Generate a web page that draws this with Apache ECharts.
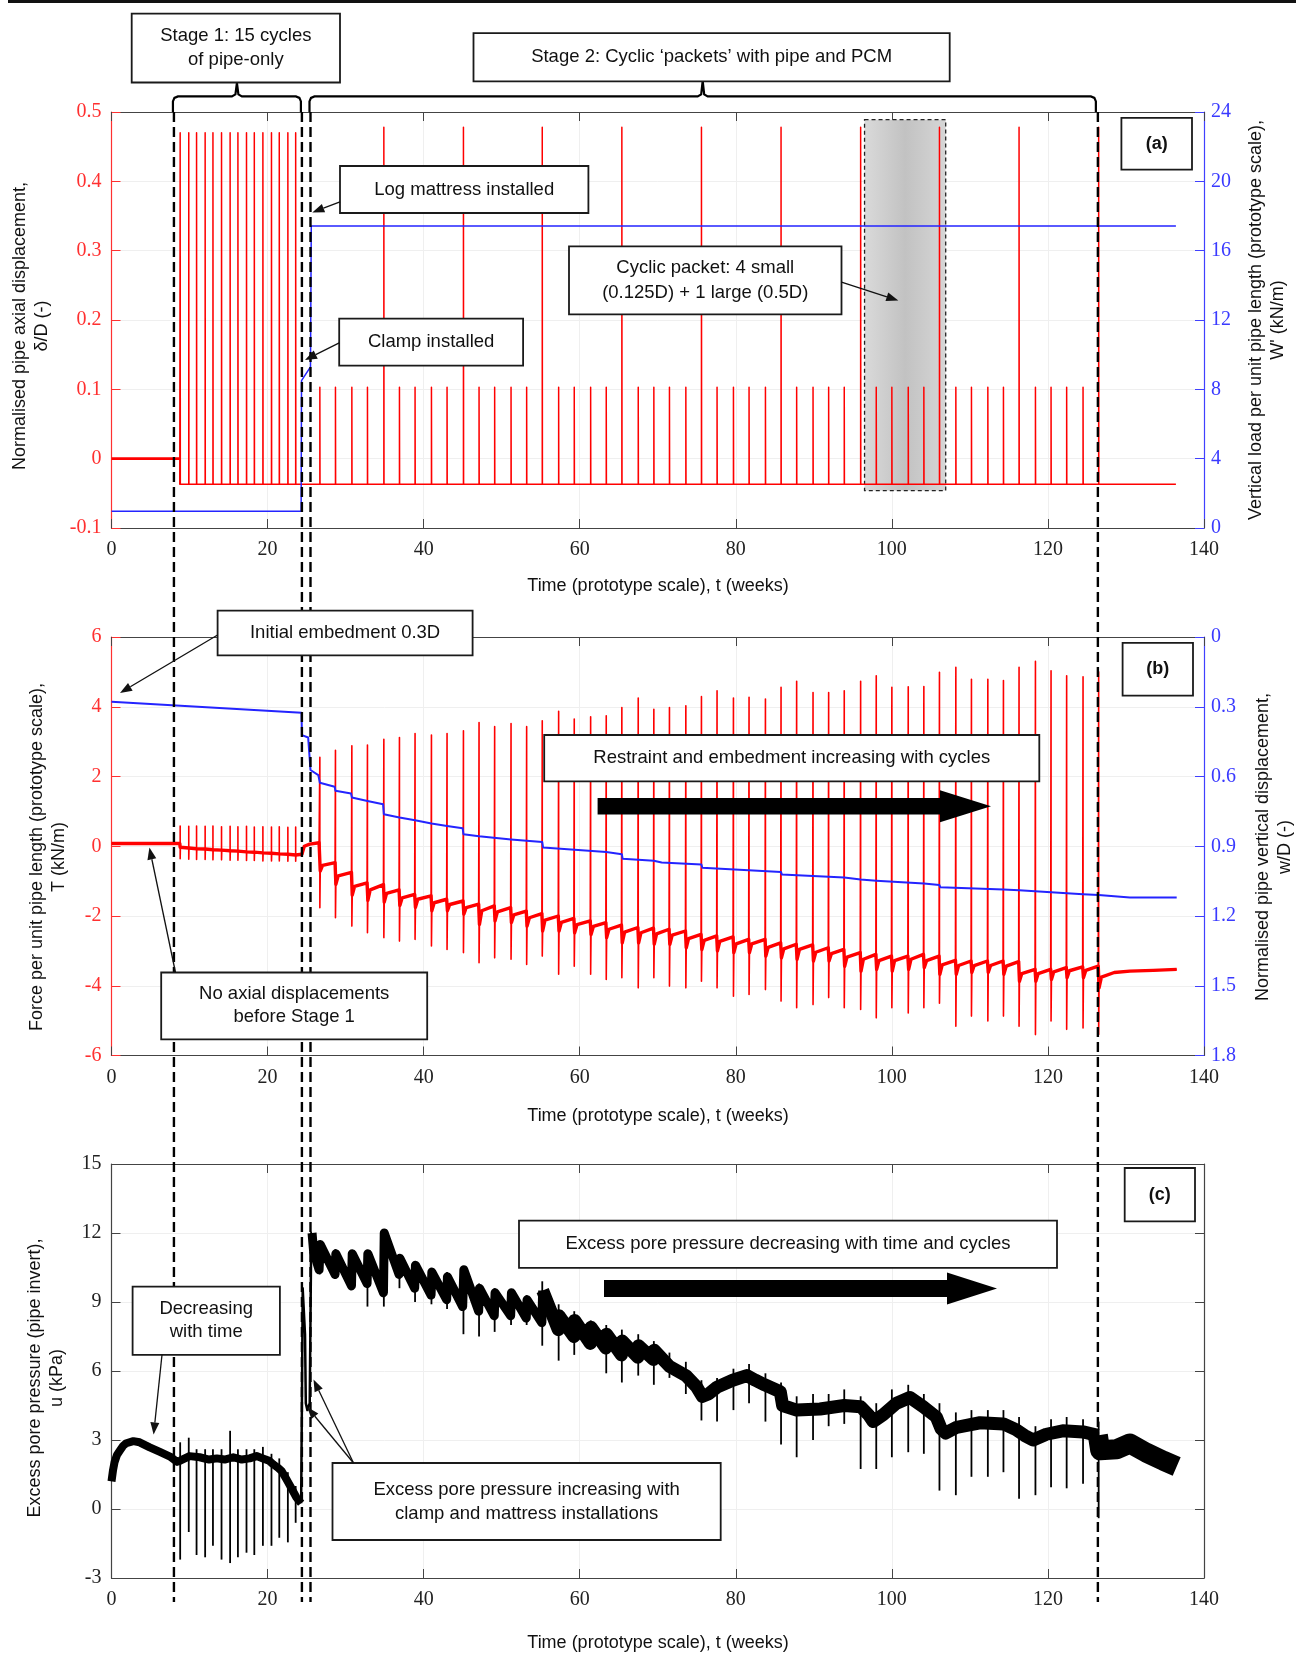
<!DOCTYPE html>
<html>
<head>
<meta charset="utf-8">
<script src="https://cdn.jsdelivr.net/npm/echarts@6/dist/echarts.min.js"></script>
<style>
html, body { margin: 0; padding: 0; background: #fff; }
#chart { width: 1315px; height: 1659px; }
</style>
</head>
<body>
<div id="chart"></div>
<script>
// event times (weeks)
const stage1Start = 8.0
const clampTime = 24.4
const mattressTime = 25.5
const stage2End = 126.4
const testEnd = 136.4

// cycle times
const stage1Times = [8.8, 9.9, 10.9, 12.0, 13.0, 14.1, 15.2, 16.2, 17.3, 18.3, 19.4, 20.5, 21.5, 22.6, 23.6]
const stage2Times = [26.7, 28.7, 30.8, 32.8, 34.9, 36.9, 38.9, 41.0, 43.0, 45.1,
  47.1, 49.1, 51.2, 53.2, 55.2, 57.3, 59.3, 61.4, 63.4, 65.4,
  67.5, 69.5, 71.5, 73.6, 75.6, 77.6, 79.7, 81.7, 83.8, 85.8,
  87.8, 89.9, 91.9, 93.9, 96.0, 98.0, 100.0, 102.1, 104.1, 106.1,
  108.2, 110.2, 112.3, 114.3, 116.3, 118.4, 120.4, 122.4, 124.5, 126.5]

// (a) normalised axial displacement and vertical load
const aBase = -0.037
const aPeak1 = [0.47, 0.47, 0.47, 0.47, 0.47, 0.47, 0.47, 0.47, 0.47, 0.47, 0.47, 0.47, 0.47, 0.47, 0.47]
const aPeak2 = [0.103, 0.103, 0.103, 0.103, 0.478, 0.103, 0.103, 0.103, 0.103, 0.478,
  0.103, 0.103, 0.103, 0.103, 0.478, 0.103, 0.103, 0.103, 0.103, 0.478,
  0.103, 0.103, 0.103, 0.103, 0.478, 0.103, 0.103, 0.103, 0.103, 0.478,
  0.103, 0.103, 0.103, 0.103, 0.478, 0.103, 0.103, 0.103, 0.103, 0.478,
  0.103, 0.103, 0.103, 0.103, 0.478, 0.103, 0.103, 0.103, 0.103, 0.478]
const aLoad = [[0, 0.97], [24.3, 0.97], [24.35, 8.5], [25.5, 9.3], [25.6, 17.42], [136.4, 17.42]]
const packetBox = [96.5, 106.9, 0.489, -0.046]

// (b) axial force and vertical displacement
const bPre = [[0, 0.08], [8.75, 0.08]]
const b1Base = [-0.03, -0.05, -0.07, -0.08, -0.10, -0.11, -0.13, -0.14, -0.16, -0.17, -0.19, -0.20, -0.22, -0.23, -0.25]
const b1Peak = [0.58, 0.57, 0.58, 0.57, 0.58, 0.56, 0.57, 0.56, 0.57, 0.55, 0.56, 0.55, 0.56, 0.54, 0.55]
const b1Trough = [-0.36, -0.37, -0.38, -0.38, -0.39, -0.39, -0.40, -0.40, -0.41, -0.41, -0.42, -0.42, -0.42, -0.43, -0.43]
const bGap = [[23.65, -0.25], [24.4, -0.23], [24.7, 0.0], [25.4, 0.06], [25.6, 0.1], [26.6, 0.1]]
const b2Peak = [2.55, 2.75, 2.88, 2.90, 3.07, 3.12, 3.23, 3.19, 3.23, 3.31,
  3.55, 3.43, 3.52, 3.43, 3.60, 3.87, 3.65, 3.71, 3.74, 3.98,
  4.25, 3.93, 3.98, 4.03, 4.29, 4.46, 4.25, 4.27, 4.22, 4.56,
  4.73, 4.41, 4.41, 4.46, 4.73, 4.89, 4.56, 4.57, 4.58, 4.99,
  5.13, 4.79, 4.79, 4.75, 5.13, 5.30, 5.03, 4.89, 4.86, 5.00]
const b2Trough = [-1.76, -2.05, -2.29, -2.48, -2.62, -2.72, -2.67, -2.86, -2.96, -3.05,
  -3.34, -3.20, -3.24, -3.39, -3.15, -3.67, -3.44, -3.67, -3.82, -3.77,
  -4.06, -3.77, -4.01, -4.06, -3.87, -4.06, -4.30, -4.25, -4.11, -4.44,
  -4.63, -4.54, -4.34, -4.63, -4.68, -4.92, -4.63, -4.78, -4.63, -4.50,
  -5.16, -4.87, -5.01, -4.87, -5.16, -5.40, -5.01, -5.25, -5.21, -5.40]
// recovery after each cycle: [start, knee, end]
const b2Rec = [
  [-0.71, -0.55, -0.47], [-1.09, -0.85, -0.75], [-1.40, -1.15, -1.05], [-1.55, -1.25, -1.10], [-1.60, -1.35, -1.25],
  [-1.70, -1.48, -1.38], [-1.75, -1.52, -1.42], [-1.85, -1.62, -1.52], [-1.85, -1.67, -1.57], [-1.95, -1.76, -1.66],
  [-2.24, -1.85, -1.71], [-2.14, -1.88, -1.76], [-2.19, -1.97, -1.86], [-2.29, -2.05, -1.93], [-2.43, -2.12, -2.00],
  [-2.43, -2.18, -2.07], [-2.48, -2.25, -2.14], [-2.53, -2.30, -2.19], [-2.62, -2.38, -2.26], [-2.77, -2.46, -2.33],
  [-2.77, -2.48, -2.35], [-2.81, -2.51, -2.38], [-2.81, -2.55, -2.43], [-2.91, -2.65, -2.53], [-2.96, -2.70, -2.57],
  [-3.00, -2.73, -2.60], [-3.05, -2.80, -2.67], [-3.05, -2.80, -2.67], [-3.15, -2.90, -2.77], [-3.20, -2.94, -2.81],
  [-3.24, -2.96, -2.83], [-3.29, -3.04, -2.91], [-3.29, -3.08, -2.96], [-3.44, -3.18, -3.05], [-3.58, -3.24, -3.10],
  [-3.53, -3.28, -3.15], [-3.58, -3.28, -3.15], [-3.53, -3.24, -3.10], [-3.48, -3.28, -3.15], [-3.67, -3.40, -3.27],
  [-3.67, -3.42, -3.29], [-3.62, -3.42, -3.29], [-3.62, -3.42, -3.29], [-3.67, -3.44, -3.31], [-3.87, -3.65, -3.53],
  [-3.87, -3.65, -3.53], [-3.82, -3.60, -3.48], [-3.77, -3.57, -3.46], [-3.77, -3.56, -3.44], [-4.06, -3.75, -3.62]]
const bTail = [[130.5, -3.58], [133.5, -3.56], [136.5, -3.53]]
const bDisp = [[0, 0.279], [24.35, 0.326], [24.4, 0.422], [25.2, 0.432], [25.5, 0.572], [26.5, 0.594], [26.7, 0.627],
  [28.6, 0.644], [28.7, 0.661], [30.7, 0.673], [30.8, 0.690], [32.8, 0.705], [32.9, 0.709], [34.8, 0.719], [34.9, 0.762],
  [36.9, 0.776], [38.9, 0.788], [41.0, 0.802], [43.0, 0.813], [45.0, 0.823], [45.1, 0.848], [47.1, 0.857], [51.2, 0.871],
  [55.2, 0.882], [55.3, 0.905], [63.4, 0.925], [65.4, 0.934], [65.5, 0.954], [69.5, 0.962], [70.5, 0.970], [75.6, 0.978],
  [75.7, 0.992], [85.8, 1.011], [85.9, 1.021], [93.9, 1.034], [96.0, 1.043], [98.0, 1.048], [104.1, 1.060], [106.1, 1.067],
  [106.2, 1.076], [114.3, 1.086], [116.3, 1.089], [116.4, 1.097], [124.5, 1.106], [126.5, 1.110], [130.5, 1.120], [136.5, 1.120]]

// (c) excess pore pressure
const cEarly = [[0, 1.2], [0.2, 1.7], [0.4, 2.05], [0.7, 2.35], [1.1, 2.55], [1.5, 2.75], [1.9, 2.86], [2.8, 2.95],
  [3.6, 2.9], [4.9, 2.68], [6.2, 2.48], [7.5, 2.28], [8.4, 2.05], [8.8, 2.1], [10.0, 2.3], [11.3, 2.25], [12.5, 2.15],
  [13.5, 2.2], [14.5, 2.15], [15.6, 2.25], [16.7, 2.15], [17.7, 2.2], [18.6, 2.3], [19.4, 2.2], [20.2, 2.1], [20.7, 1.95],
  [21.3, 1.8], [21.8, 1.65], [22.4, 1.3], [22.9, 1.0], [23.3, 0.75], [23.7, 0.5], [24.3, 0.25]]
const cInstall = [[24.3, 0.25], [24.4, 4.6], [24.5, 9.6], [24.8, 7.6], [24.9, 4.6], [25.1, 4.3], [25.4, 4.6], [25.6, 12.0], [25.7, 12.0]]
const cCycles1 = [[25.7, 12.0], [25.9, 11.2], [26.6, 10.4], [26.75, 11.5], [28.65, 10.2], [28.75, 11.1], [30.75, 9.7],
  [30.85, 11.1], [32.75, 9.8], [32.85, 11.1], [34.85, 9.4], [34.95, 12.0], [36.85, 10.2], [36.95, 10.9], [38.85, 9.6],
  [38.95, 10.6], [40.95, 9.3], [41.05, 10.3], [42.95, 9.1], [43.05, 10.1], [45.0, 8.8], [45.15, 10.4], [47.05, 8.6],
  [47.15, 9.6], [49.05, 8.4], [49.15, 9.4], [51.15, 8.4], [51.25, 9.4], [53.15, 8.3], [53.25, 9.1], [55.15, 8.1], [55.25, 9.5]]
const cCycles2 = [[55.25, 9.5], [57.25, 7.8], [57.35, 8.4], [59.25, 7.5], [59.35, 8.2], [61.35, 7.2], [61.45, 7.9],
  [63.35, 7.0], [63.45, 7.6], [65.35, 6.7], [65.45, 7.3], [67.45, 6.6], [67.55, 7.1], [69.45, 6.5], [69.55, 6.9],
  [71.5, 6.2], [73.6, 5.8], [75.0, 5.3], [75.7, 4.9], [76.5, 5.0], [77.6, 5.3], [79.6, 5.6], [81.4, 5.8], [82.5, 5.6],
  [83.7, 5.4], [85.7, 5.1], [86.0, 4.5], [87.8, 4.3], [90.8, 4.35], [93.9, 4.5], [96.0, 4.45], [97.0, 4.1], [97.6, 3.8],
  [98.9, 4.1], [100.6, 4.6], [102.3, 4.85], [104.0, 4.45], [105.7, 4.0], [106.3, 3.5], [106.9, 3.3], [108.3, 3.55],
  [111.3, 3.75], [114.3, 3.7], [115.9, 3.45], [117.0, 3.2], [118.1, 3.0], [119.8, 3.25], [121.9, 3.4], [124.5, 3.35], [126.4, 3.2]]
const cTail = [[126.4, 3.2], [126.7, 2.55], [128.8, 2.6], [130.5, 2.85], [132.6, 2.45], [134.8, 2.1], [136.5, 1.85]]
const cSpikeTop1 = [2.9, 3.1, 2.6, 2.6, 2.6, 2.6, 3.4, 2.6, 2.6, 2.6, 2.7, 2.4, 2.2, 1.6, 1.0]
const cSpikeBottom1 = [-2.2, -1.0, -2.0, -2.1, -1.6, -2.2, -2.35, -2.1, -1.9, -2.0, -1.6, -1.6, -1.25, -1.45, -0.6]
const cSpikeTop2 = [11.6, 11.3, 11.2, 11.2, 12.1, 11.0, 10.7, 10.4, 10.3, 10.5,
  9.8, 9.6, 9.5, 9.3, 9.9, 8.9, 8.6, 8.2, 8.0, 7.8,
  7.6, 7.3, 6.8, 6.4, 5.6, 5.7, 6.1, 6.3, 5.9, 5.5,
  4.9, 5.0, 5.0, 5.2, 4.9, 4.6, 5.2, 5.4, 5.0, 4.6,
  4.2, 4.3, 4.3, 4.3, 4.0, 3.6, 3.9, 4.0, 3.9, 3.8]
const cSpikeBottom2 = [10.2, 10.0, 9.6, 8.8, 8.8, 9.6, 9.0, 8.9, 8.7, 7.6,
  7.5, 7.7, 8.0, 8.0, 7.1, 6.45, 6.7, 7.3, 5.9, 5.5,
  5.8, 5.4, 5.7, 5.0, 3.85, 3.8, 4.3, 4.6, 3.8, 2.8,
  2.25, 3.0, 3.6, 3.7, 1.74, 1.74, 2.25, 2.47, 2.4, 0.8,
  0.6, 1.4, 1.4, 1.6, 0.45, 0.6, 0.95, 0.9, 1.1, -0.4]

const serif = 'Liberation Serif'
const sans = '"Liberation Sans", Arial, sans-serif'
const RED = '#ff0000'
const BLUE = '#2424ff'

// build line paths from the arrays above
function buildA() {
  const d = [[8.75, 0], [8.75, aBase]]
  stage1Times.forEach((t, i) => d.push([t, aBase], [t, aPeak1[i]], [t + 0.02, aBase]))
  stage2Times.forEach((t, i) => d.push([t, aBase], [t, aPeak2[i]], [t + 0.02, aBase]))
  d.push([testEnd, aBase])
  return d
}

function buildB() {
  const thin = bPre.slice(), thick = bPre.slice()
  stage1Times.forEach((t, i) => {
    thin.push([t, b1Base[i]], [t, b1Peak[i]], [t, b1Trough[i]], [t + 0.03, b1Base[i]])
    thick.push([t, b1Base[i]])
  })
  bGap.forEach(p => { thin.push(p); thick.push(p) })
  stage2Times.forEach((t, k) => {
    const r = b2Rec[k]
    const tEnd = k < stage2Times.length - 1 ? stage2Times[k + 1] - 0.05 : t + 2.0
    thin.push([t, b2Peak[k]], [t, b2Trough[k]], [t + 0.05, r[0]], [t + 0.35, r[1]], [tEnd, r[2]])
    thick.push([t + 0.05, r[0]], [t + 0.35, r[1]], [tEnd, r[2]])
  })
  bTail.forEach(p => { thin.push(p); thick.push(p) })
  return { thin, thick }
}

const cSpikes = stage1Times.map((t, i) => [t, cSpikeTop1[i], cSpikeBottom1[i]])
  .concat(stage2Times.map((t, i) => [t, cSpikeTop2[i], cSpikeBottom2[i]]))

const bLines = buildB()

const grids = [
  { left: 111.5, top: 112, width: 1092.5, height: 416 },
  { left: 111.5, top: 637, width: 1092.5, height: 418.5 },
  { left: 111.5, top: 1164, width: 1092.5, height: 414 }
]

function xAxes(g) {
  const base = { type: 'value', gridIndex: g, min: 0, max: 140, interval: 20 }
  return [
    Object.assign({}, base, {
      position: 'bottom',
      axisLine: { onZero: false, lineStyle: { color: '#444', width: 1.2 } },
      axisTick: { inside: true, length: 9, lineStyle: { color: '#444' } },
      axisLabel: { margin: 12, color: '#222', fontFamily: serif, fontSize: 20 },
      splitLine: { show: true, lineStyle: { color: '#efefef' } }
    }),
    Object.assign({}, base, {
      position: 'top',
      axisLine: { onZero: false, lineStyle: { color: '#444', width: 1.2 } },
      axisTick: { inside: true, length: 9, lineStyle: { color: '#444' } },
      axisLabel: { show: false },
      splitLine: { show: false }
    })
  ]
}

function yAxis(g, pos, min, max, interval, lineColor, labelColor, extra) {
  return Object.assign({
    type: 'value', gridIndex: g, position: pos, min, max, interval,
    axisLine: { show: true, onZero: false, lineStyle: { color: lineColor, width: 1.2 } },
    axisTick: { show: true, inside: true, length: 9, lineStyle: { color: lineColor } },
    axisLabel: { show: !!labelColor, margin: pos === 'left' ? 10 : 7, color: labelColor, fontFamily: serif, fontSize: 20 },
    splitLine: { show: pos === 'left', lineStyle: { color: '#efefef' } }
  }, extra || {})
}

function line(xi, yi, data, color, width, z) {
  return {
    type: 'line', xAxisIndex: xi, yAxisIndex: yi, data, symbol: 'none', showSymbol: false,
    silent: true, z: z || 3, lineStyle: { color, width, join: 'round' }
  }
}

const option = {
  animation: false,
  backgroundColor: '#fff',
  textStyle: { fontFamily: serif },
  grid: grids.map(g => Object.assign({ outerBoundsMode: 'none' }, g)),
  xAxis: [].concat(xAxes(0), xAxes(1), xAxes(2)),
  yAxis: [
    yAxis(0, 'left', -0.1, 0.5, 0.1, '#ff3030', '#ff3030'),
    yAxis(0, 'right', 0, 24, 4, '#4040ff', '#3a3aff'),
    yAxis(1, 'left', -6, 6, 2, '#ff3030', '#ff3030'),
    yAxis(1, 'right', 0, 1.8, 0.3, '#4040ff', '#3a3aff', { inverse: true }),
    yAxis(2, 'left', -3, 15, 3, '#444', '#222'),
    yAxis(2, 'right', -3, 15, 3, '#444', null)
  ],
  series: [
    {
      type: 'custom', xAxisIndex: 0, yAxisIndex: 0, z: 1, silent: true,
      data: [packetBox], encode: { x: [0, 1], y: [2, 3] },
      renderItem: (params, api) => {
        const a = api.coord([api.value(0), api.value(2)])
        const b = api.coord([api.value(1), api.value(3)])
        return {
          type: 'rect',
          shape: { x: a[0], y: a[1], width: b[0] - a[0], height: b[1] - a[1] },
          style: {
            fill: new echarts.graphic.LinearGradient(0, 0, 1, 0, [
              { offset: 0, color: '#dadada' }, { offset: 0.5, color: '#c2c2c2' }, { offset: 1, color: '#d6d6d6' }]),
            stroke: '#222', lineWidth: 1.3, lineDash: [4, 3]
          }
        }
      }
    },
    line(0, 0, [[0, 0], [8.75, 0]], RED, 2.6),
    line(0, 0, buildA(), RED, 1.5),
    line(0, 1, aLoad, BLUE, 1.5),
    line(2, 2, bLines.thin, RED, 1.6),
    line(2, 2, bLines.thick, RED, 3.4),
    line(2, 3, bDisp, BLUE, 2, 4),
    line(4, 4, cEarly, '#000', 8),
    line(4, 4, cInstall, '#000', 2.5),
    line(4, 4, cCycles1, '#000', 9),
    line(4, 4, cCycles2, '#000', 13),
    line(4, 4, cTail, '#000', 20),
    {
      type: 'custom', xAxisIndex: 4, yAxisIndex: 4, z: 3, silent: true,
      data: cSpikes, encode: { x: 0, y: [1, 2] },
      renderItem: (params, api) => {
        const p1 = api.coord([api.value(0), api.value(1)])
        const p2 = api.coord([api.value(0), api.value(2)])
        return { type: 'line', shape: { x1: p1[0], y1: p1[1], x2: p2[0], y2: p2[1] }, style: { stroke: '#000', lineWidth: 1.8 } }
      }
    }
  ]
}

const chart = echarts.init(document.getElementById('chart'))
chart.setOption(option)

// annotations
function box(x, y, w, h, text, opt) {
  opt = opt || {}
  const font = (opt.bold ? 'bold 18px ' : '18.5px ') + sans
  return [
    { type: 'rect', z: 70, shape: { x, y, width: w, height: h }, style: { fill: '#fff', stroke: '#1a1a1a', lineWidth: 1.8 } },
    {
      type: 'text', z: 71, x: x + w / 2, y: y + h / 2 + (opt.dy || 0),
      style: { text, font, fill: '#111', align: 'center', verticalAlign: 'middle', textAlign: 'center', textVerticalAlign: 'middle', lineHeight: opt.lh || 24 }
    }
  ]
}

function arrow(x1, y1, x2, y2) {
  const dx = x2 - x1, dy = y2 - y1, len = Math.hypot(dx, dy)
  const ux = dx / len, uy = dy / len
  const hl = 12, hw = 4.5
  const bx = x2 - ux * hl, by = y2 - uy * hl
  return [
    { type: 'line', z: 72, shape: { x1, y1, x2: bx, y2: by }, style: { stroke: '#111', lineWidth: 1.3 } },
    { type: 'polygon', z: 72, shape: { points: [[x2, y2], [bx - uy * hw, by + ux * hw], [bx + uy * hw, by - ux * hw]] }, style: { fill: '#111' } }
  ]
}

function bigArrow(x1, x2, xTip, yc, shaftH, headH) {
  return {
    type: 'polygon', z: 65,
    shape: { points: [[x1, yc - shaftH / 2], [x2, yc - shaftH / 2], [x2, yc - headH / 2], [xTip, yc], [x2, yc + headH / 2], [x2, yc + shaftH / 2], [x1, yc + shaftH / 2]] },
    style: { fill: '#000' }
  }
}

function vText(x, y, text) {
  return {
    type: 'text', z: 40, x, y, rotation: Math.PI / 2,
    style: { text, font: '18px ' + sans, fill: '#111', align: 'center', verticalAlign: 'middle', textAlign: 'center', textVerticalAlign: 'middle', lineHeight: 22 }
  }
}

function hText(x, y, text) {
  return {
    type: 'text', z: 40, x, y,
    style: { text, font: '18px ' + sans, fill: '#111', align: 'center', verticalAlign: 'middle', textAlign: 'center', textVerticalAlign: 'middle' }
  }
}

function brace(x1, x2, yb, yh, ypk) {
  const m = (x1 + x2) / 2
  return {
    type: 'polyline', z: 55,
    shape: { points: [[x1, yb], [x1, yh + 5], [x1 + 1.5, yh + 1.5], [x1 + 5, yh], [m - 5, yh], [m - 1.5, yh - 2], [m, ypk],
      [m + 1.5, yh - 2], [m + 5, yh], [x2 - 5, yh], [x2 - 1.5, yh + 1.5], [x2, yh + 5], [x2, yb]] },
    style: { stroke: '#000', lineWidth: 2.2, fill: null }
  }
}

const xPix = t => chart.convertToPixel({ xAxisIndex: 0 }, t)
const plotTop = grids[0].top
const g = []

g.push({ type: 'rect', z: 50, shape: { x: 8, y: 0, width: 1288, height: 3 }, style: { fill: '#111' } })

// dashed event lines
;[stage1Start, clampTime, mattressTime, stage2End].forEach(t => {
  const x = xPix(t)
  g.push({ type: 'line', z: 55, shape: { x1: x, y1: plotTop, x2: x, y2: 1602 }, style: { stroke: '#000', lineWidth: 2.4, lineDash: [10, 5] } })
})
g.push(brace(xPix(stage1Start) - 1, xPix(clampTime) - 1, plotTop, 96.4, 83))
g.push(brace(xPix(mattressTime) - 1, xPix(stage2End) - 2, plotTop, 96.4, 81))

// axis titles
g.push(vText(31, 326, 'Normalised pipe axial displacement,\nδ/D (-)'))
g.push(vText(1267.5, 320, 'Vertical load per unit pipe length (prototype scale),\nW\' (kN/m)'))
g.push(vText(48.5, 857, 'Force per unit pipe length (prototype scale),\nT (kN/m)'))
g.push(vText(1274, 847, 'Normalised pipe vertical displacement,\nw/D (-)'))
g.push(vText(46.5, 1378, 'Excess pore pressure (pipe invert),\nu (kPa)'))
g.push(hText(658, 586, 'Time (prototype scale), t (weeks)'))
g.push(hText(658, 1116, 'Time (prototype scale), t (weeks)'))
g.push(hText(658, 1643, 'Time (prototype scale), t (weeks)'))

// boxes
g.push(...box(131.7, 13.6, 208.3, 68.9, 'Stage 1: 15 cycles\nof pipe-only', { lh: 24 }))
g.push(...box(473.5, 33.2, 476.2, 48.2, 'Stage 2: Cyclic ‘packets’ with pipe and PCM'))
g.push(...box(340, 166, 248.4, 47, 'Log mattress installed'))
g.push(...box(339.2, 318.6, 183.9, 47.1, 'Clamp installed'))
g.push(...box(569, 246.4, 272.5, 67.9, 'Cyclic packet: 4 small\n(0.125D) + 1 large (0.5D)', { lh: 25 }))
g.push(...box(1121.4, 117.9, 70.6, 51.7, '(a)', { bold: true }))
g.push(...box(217.6, 610.7, 255, 44.7, 'Initial embedment 0.3D'))
g.push(...box(1122.6, 642.9, 70.4, 52.8, '(b)', { bold: true }))
g.push(...box(544.2, 735, 495.1, 46.4, 'Restraint and embedment increasing with cycles'))
g.push(...box(161.2, 972.5, 266, 66.8, 'No axial displacements\nbefore Stage 1', { lh: 23 }))
g.push(...box(132.6, 1286.7, 147.3, 68.1, 'Decreasing\nwith time', { lh: 23 }))
g.push(...box(332.5, 1463, 388.2, 77, 'Excess pore pressure increasing with\nclamp and mattress installations', { lh: 24 }))
g.push(...box(519, 1220.7, 538, 47.1, 'Excess pore pressure decreasing with time and cycles'))
g.push(...box(1124.7, 1168, 70.3, 53.4, '(c)', { bold: true }))

// arrows
g.push(...arrow(340, 201.8, 312.3, 212.5))
g.push(...arrow(339.2, 342.9, 305, 360))
g.push(...arrow(841.5, 282.1, 898.3, 300.5))
g.push(...arrow(217.6, 635, 120, 692.9))
g.push(...arrow(175.5, 972.5, 149.4, 847.5))
g.push(...arrow(162, 1354.8, 153.6, 1434.5))
g.push(...arrow(353.5, 1463, 307.2, 1407))
g.push(...arrow(353.5, 1463, 313.5, 1379.5))
g.push(bigArrow(597.6, 940, 991, 806.2, 16.5, 32))
g.push(bigArrow(604, 947, 997, 1288.5, 17, 32))

chart.setOption({ graphic: { elements: g } })
</script>
</body>
</html>
